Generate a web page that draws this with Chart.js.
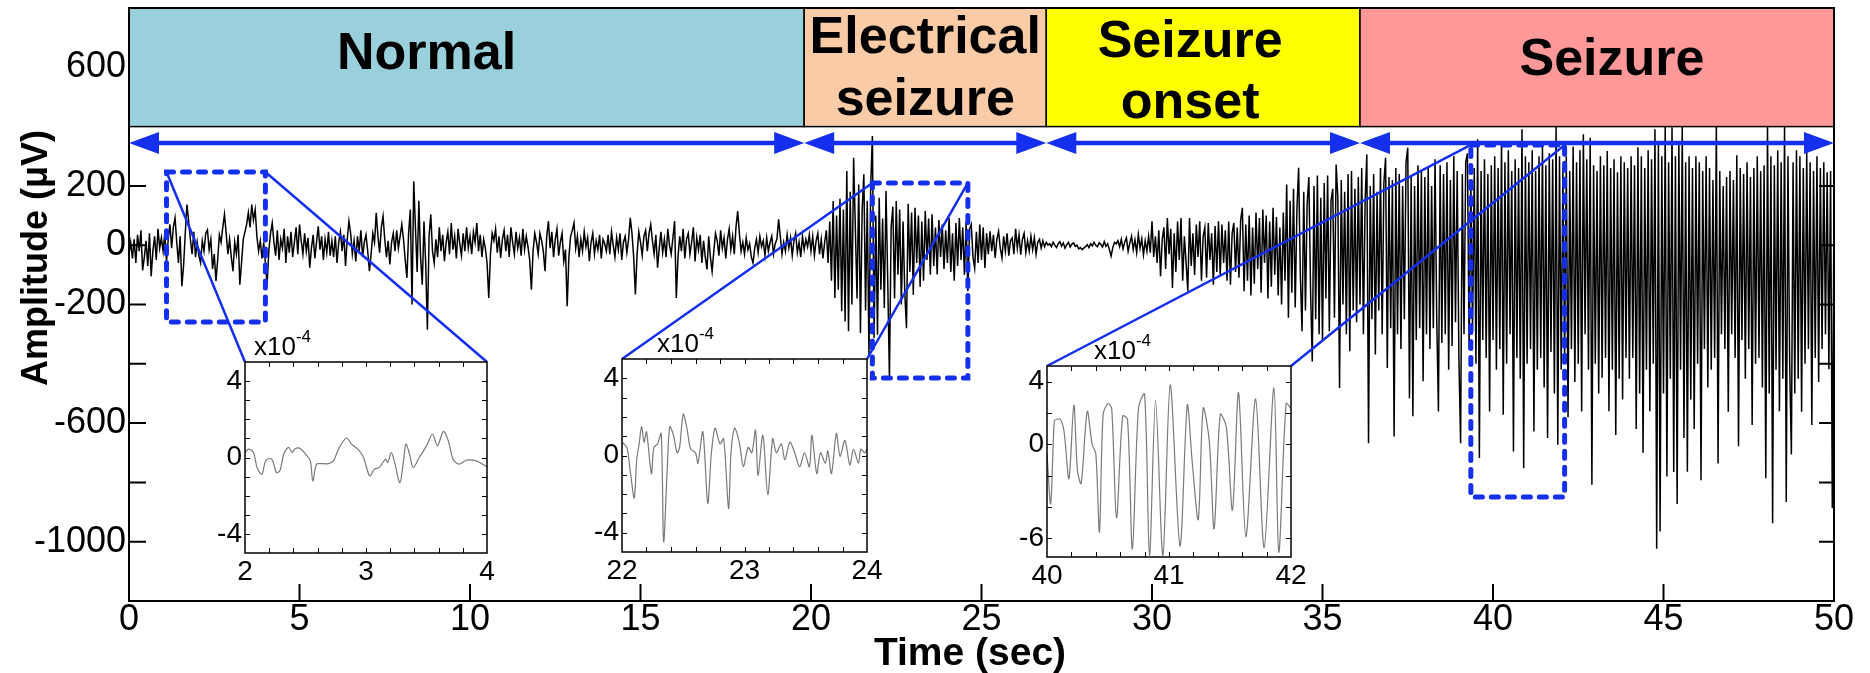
<!DOCTYPE html>
<html>
<head>
<meta charset="utf-8">
<script src="https://cdn.jsdelivr.net/npm/chart.js@4.4.0/dist/chart.umd.min.js"></script>
<style>
  body { margin: 0; background: #fff; }
  #wrap { position: relative; width: 1870px; height: 673px; }
  #wrap canvas { position: absolute; }
</style>
</head>
<body>
<div id="wrap">
  <canvas id="eeg" width="1870" height="673" style="left:0;top:0"></canvas>
  <canvas id="inset1"></canvas>
  <canvas id="inset2"></canvas>
  <canvas id="inset3"></canvas>
</div>
<script>
// EEG trace, one sample every 0.05 s (one row = one second), values in uV
const timeStep = 0.05;
const amplitude = [
  -30, 10, -45, 20, -60, 35, -20, 50, -85, -40, 15, -70, 40, -105, -20, 30, -50, 55, -10, 25,
  -20, 40, -55, 20, 70, -10, 60, 92, 10, -60, 30, -138, -70, 40, 137, 80, 20, -30, 45, -40,
  10, -35, -60, 15, -20, 40, 52, -15, 20, -80, -30, -121, -50, 35, 10, 60, 104, 40, -30, 20,
  -40, -88, 10, -30, 35, -133, -60, 20, 45, 70, 110, 60, 137, 85, 120, 30, -20, 15, -45, 10,
  -60, -133, -20, 40, 75, 10, -35, 50, -50, 20, -10, 55, -60, 30, -25, 45, -40, 10, 60, -30,
  70, 15, -30, 40, -20, 25, -76, -10, 35, -45, 10, 64, -15, 30, -50, 20, -25, 45, -35, 15,
  -40, 30, -60, 10, 45, -20, 35, -70, 20, 81, 40, -30, 15, -55, 30, -20, 50, -40, 10, 35,
  -20, -88, -30, 40, 10, 109, 30, -25, 60, 98, 20, -40, 15, -65, 10, 40, -20, 50, -10, 30,
  70, 20, -50, -110, 40, 120, -200, 216, 60, -90, 150, -40, -133, 80, -60, -285, 30, 104, -20, -60,
  20, -40, 60, -20, 35, -54, 10, 45, -30, 75, -15, 30, -45, 55, 5, -35, 40, -20, 60, -10,
  30, -30, 45, 10, 75, -20, 35, -40, 20, -10, -60, -178, -30, 40, 15, 55, -25, 30, -43, 20,
  50, -20, 35, -40, 60, 10, -30, 45, -10, 25, -35, 55, -15, 30, -5, -50, -150, -20, 40, 10,
  -30, 40, 15, -20, -88, 30, 81, -10, 45, -40, 20, 55, -35, 10, 40, -54, -15, -206, -40, 30,
  50, 75, -10, 30, -40, 20, -20, 45, -5, 25, -54, 10, 40, -30, 15, -15, 35, -45, 20, 5,
  -20, 35, -30, 45, 0, -40, 25, -15, 40, -50, 10, 30, -25, 20, 92, 40, -40, -166, -30, 45,
  10, -35, 30, 50, -20, 40, 70, 15, -30, 35, -76, -10, 45, -25, 20, -40, 55, 0, -30, 25,
  81, -178, -40, 30, -20, 55, -45, 20, 40, -30, 10, 60, -55, 25, -15, 35, -60, 15, -40, -82,
  30, -40, -88, -20, 40, 15, -35, 50, -10, 25, -45, 20, 55, -15, 30, -30, 60, 115, 40, -20,
  10, -30, 25, -15, 5, -40, -60, -10, 20, -25, 30, -5, 15, -35, 25, -20, 10, 30, -30, 5,
  20, 87, 30, -30, 10, -20, 35, -10, 25, -35, 15, 40, -25, 10, -40, 30, -15, 20, -5, 35,
  -20, 30, -35, 15, 40, -30, 20, -45, 10, 50, -60, 80, -120, 149, -178, 100, -150, 157, -223, 120,
  -257, 250, -290, 180, -200, 295, 60, -180, 205, -296, 120, 239, -220, 150, -375, 200, 368, -313, 100, -302,
  160, -150, 90, -212, 183, -120, -448, 60, 130, -180, 149, -100, 120, -200, 80, -160, -280, 140, -90, 110,
  -167, 126, -60, 100, -140, 80, -120, 115, -50, 90, -100, 104, -70, 60, -99, 85, -40, 70, -80, 50,
  -60, 92, -90, 40, -120, 75, -70, 92, -50, 60, -100, 80, -155, 55, 70, -40, -77, 45, -60, 70,
  -50, 60, -77, 40, -30, 47, -20, 35, -43, 20, 47, -10, -43, 30, -20, 40, -35, 15, 25, -30,
  55, -10, 35, -32, 20, 40, -25, 15, -20, 30, -15, 25, -30, 10, 20, -10, 15, -5, 10, 0,
  5, -5, 10, 0, -8, 5, 12, -3, 8, -10, 2, 10, -6, 4, 8, -4, 0, -12, -8, -15,
  -10, -5, 2, -8, 5, -2, 10, 0, -5, 8, 3, -6, 12, -4, 5, -15, -37, -8, 10, 5,
  15, -5, 20, -12, 10, 25, -20, 8, 30, -15, 18, -25, 36, -10, 22, -32, 15, -20, 30, -25,
  81, -40, 30, -60, 50, -105, 20, 60, -80, 92, -30, 55, -144, 40, -90, 80, -50, 92, -120, 30,
  -60, -155, 92, -70, 40, -100, 70, -40, 81, -120, 30, 60, -110, 75, -50, 40, -133, 65, -90, 81,
  -100, 70, -60, 50, -120, 80, -133, 40, 75, -90, 60, -110, 85, 126, -155, 70, -120, 100, -170, 60,
  -130, 110, -80, 92, -160, 120, -60, 100, -180, 80, -140, 126, -100, 95, -170, 60, -200, 110, -120, 205,
  -245, 150, -160, 190, -210, 120, 261, -100, -290, 180, -220, 140, 230, -150, -392, 200, -250, 235, -300, 160,
  -325, 210, -180, 235, -290, 150, 190, -245, 272, 160, -482, 220, -200, 180, -300, 240, -358, 250, -220, 190,
  -260, 230, -200, 260, -300, 150, 306, -668, 200, -250, 240, -369, 180, -220, 260, -300, 210, 295, -414, 230,
  -280, 220, -645, 260, -300, 240, -350, 200, -250, 280, 329, -516, 230, -577, 200, -320, 270, -280, 250, -459,
  230, -300, 260, -350, 200, -280, 290, -250, -561, 270, -330, 240, -300, 280, -420, 220, -340, 300, -260, 250,
  -380, -668, 240, -300, 280, 310, -350, 220, -290, 260, -400, 357, -718, 250, -320, 290, -380, 240, -561, 270,
  -320, 300, -420, 260, -350, 351, -572, 280, -400, 320, -300, 250, -696, 290, -380, 260, -450, 391, -752, 300,
  -400, 280, -350, 320, -628, 250, -420, 300, -380, 340, -480, 270, -650, 310, -360, 290, -500, 400, -673, 300,
  -420, 260, -380, 300, -580, 250, -350, 333, -461, 280, -400, 320, -561, 374, -300, 290, -420, 362, -808, 270,
  -400, 250, -500, 300, -447, 270, -380, 318, -560, 260, -420, 290, -640, 246, -450, 300, -520, 280, -380, 260,
  -450, 300, -380, 270, -620, 330, -500, 300, -700, 260, -420, 320, -560, 290, -400, 391, -1024, 350, -966, 300,
  -500, 400, -780, 280, -450, 398, -765, 300, -873, 350, -420, 400, -650, 280, -764, 300, -520, 260, -620, 300,
  -400, 280, -793, 250, -350, 300, -480, 260, -420, 220, -380, 400, -736, 250, -300, 200, -350, 230, -562, 250,
  -300, 220, -380, 303, -678, 260, -320, 240, -450, 280, -350, 230, -606, 260, -400, 300, -380, 250, -480, 270,
  -786, 400, -500, 300, -938, 270, -420, 320, -560, 280, -450, 400, -866, 300, -400, -706, 280, -500, 320, -450,
  300, -562, 260, -400, 320, -350, 280, -606, 250, -380, 300, -461, 260, -350, 280, -300, 246, -418, 250, -887,
  150
];

const phaseNames = [["Normal"], ["Electrical", "seizure"], ["Seizure", "onset"], ["Seizure"]];
const phaseBounds = [0, 19.8, 26.9, 36.1, 50];
const phaseColors = ["#99d0dc", "#f9cba7", "#ffff00", "#ff9999"];

const yLabelValues = [600, 200, 0, -200, -600, -1000];

// zoomed windows on the trace: [t start, t end, low uV, high uV]
const zoomWindows = [[1.1, 4.0, -259, 247], [21.8, 24.6, -448, 210], [39.35, 42.1, -849, 338]];

// insets, amplitude in units of 1e-4
const inset1Time = [2.0, 2.03, 2.07, 2.1, 2.14, 2.17, 2.21, 2.23, 2.26, 2.29, 2.32, 2.36, 2.39, 2.41, 2.45, 2.5, 2.54, 2.56, 2.59, 2.62, 2.69, 2.73, 2.78, 2.84, 2.88, 2.94, 2.98, 3.03, 3.07, 3.11, 3.16, 3.18, 3.21, 3.24, 3.28, 3.31, 3.33, 3.36, 3.39, 3.44, 3.5, 3.55, 3.59, 3.64, 3.68, 3.72, 3.77, 3.83, 3.91, 4.0];
const inset1Value = [0.26, 0.44, 0.26, -0.53, -0.88, -0.18, -0.04, -0.18, -0.79, -0.67, 0.18, 0.53, 0.26, 0.44, 0.49, 0.18, -0.18, -1.23, -0.35, -0.32, -0.32, -0.18, 0.53, 1.02, 0.7, 0.39, 0, -0.96, -0.61, -0.53, -0.09, -0.26, 0.26, -0.35, -1.32, -0.18, 0.7, 0.18, -0.53, 0, 0.61, 1.23, 0.61, 1.37, 0.88, -0.09, -0.35, -0.14, -0.18, -0.49];

const inset2Time = [22.0, 22.04, 22.07, 22.1, 22.12, 22.14, 22.16, 22.18, 22.2, 22.24, 22.26, 22.29, 22.32, 22.34, 22.37, 22.39, 22.42, 22.45, 22.47, 22.5, 22.53, 22.56, 22.6, 22.62, 22.66, 22.7, 22.73, 22.76, 22.8, 22.83, 22.87, 22.89, 22.92, 22.96, 22.99, 23.03, 23.06, 23.09, 23.11, 23.15, 23.19, 23.23, 23.26, 23.3, 23.33, 23.37, 23.41, 23.45, 23.49, 23.53, 23.55, 23.59, 23.62, 23.66, 23.68, 23.71, 23.75, 23.78, 23.82, 23.86, 23.89, 23.93, 23.95, 23.98, 24.0];
const inset2Value = [0.69, 0.42, -0.94, -2.2, -0.22, 0.6, 1.5, 0.69, 1.23, -0.94, 0.42, 0.6, 1.14, -4.47, -0.58, 1.5, 1.05, 0.14, 0.42, 2.14, 1.41, 0.33, 0.14, -0.4, 1.23, -2.48, 0.14, 1.41, 0.6, 0.87, -2.75, 0.14, 1.41, 0.6, -0.58, 0.42, 0.14, 1.32, -1.03, 1.05, -2.03, 0.87, 0.14, 0.6, -0.22, 0.69, 0.14, -0.58, 0.14, -0.58, 1.05, -0.94, 0.14, -0.4, 0.24, -0.94, 1.14, -0.04, 0.78, -0.49, 0.33, -0.4, 0.33, 0.14, 0.33];

const inset3Time = [40.0, 40.03, 40.06, 40.08, 40.11, 40.14, 40.18, 40.22, 40.25, 40.28, 40.33, 40.37, 40.4, 40.43, 40.46, 40.5, 40.53, 40.57, 40.62, 40.66, 40.7, 40.75, 40.8, 40.84, 40.89, 40.95, 41.01, 41.09, 41.15, 41.19, 41.24, 41.28, 41.33, 41.37, 41.42, 41.47, 41.52, 41.57, 41.63, 41.71, 41.78, 41.86, 41.9, 41.96, 42.0];
const inset3Value = [-0.6, -3.8, 1.5, 1.6, 1.6, 0.8, -2.2, 2.5, -1.7, -2.5, 2.1, 0, -0.6, -5.6, 1.9, 2.6, 2.3, -4.7, 1.8, 1.6, -6.7, 2.3, 3.2, -7.1, 2.8, -7.1, 3.8, -6.5, 2.5, -1.1, -4.8, 2.3, 0.2, -5.4, 1.9, 1.1, -4.2, 3.3, -5.9, 2.9, -6.6, 3.6, -6.9, 2.6, 2.3];

const FONT = "'Liberation Sans', Arial, Helvetica, sans-serif";
const BLUE = "#1430ee";

// pixel boxes of the three insets on the page
const insetBoxes = [
  { left: 245, top: 362, width: 242, height: 191 },
  { left: 622, top: 359, width: 245, height: 193 },
  { left: 1047, top: 366, width: 244, height: 191 }
];
const phaseLabelLayout = [
  { dx: -40, baselines: [69] },
  { dx: 0, baselines: [53, 115] },
  { dx: -13, baselines: [57, 118] },
  { dx: 15, baselines: [75] }
];

const eegPoints = amplitude.map((v, i) => ({ x: +(i * timeStep).toFixed(2), y: v }));

function drawArrow(ctx, x0, x1, yy) {
  const head = 30, half = 11;
  ctx.beginPath();
  ctx.moveTo(x0 + head - 2, yy);
  ctx.lineTo(x1 - head + 2, yy);
  ctx.stroke();
  ctx.beginPath();
  ctx.moveTo(x0, yy); ctx.lineTo(x0 + head, yy - half); ctx.lineTo(x0 + head, yy + half);
  ctx.closePath(); ctx.fill();
  ctx.beginPath();
  ctx.moveTo(x1, yy); ctx.lineTo(x1 - head, yy - half); ctx.lineTo(x1 - head, yy + half);
  ctx.closePath(); ctx.fill();
}

const overlay = {
  id: "overlay",
  afterDatasetsDraw(chart) {
    const { ctx, chartArea: a, scales: { x, y } } = chart;
    ctx.save();

    // phase bands over the top of the plot
    const bandTop = y.getPixelForValue(800), bandBottom = y.getPixelForValue(400);
    phaseNames.forEach((lines, i) => {
      const l = x.getPixelForValue(phaseBounds[i]), r = x.getPixelForValue(phaseBounds[i + 1]);
      ctx.fillStyle = phaseColors[i];
      ctx.fillRect(l, bandTop, r - l, bandBottom - bandTop);
      ctx.strokeStyle = "#000";
      ctx.lineWidth = 1.5;
      ctx.strokeRect(l, bandTop, r - l, bandBottom - bandTop);
      ctx.fillStyle = "#000";
      ctx.font = "bold 52px " + FONT;
      ctx.textAlign = "center";
      ctx.textBaseline = "alphabetic";
      const lay = phaseLabelLayout[i];
      lines.forEach((t, k) => ctx.fillText(t, (l + r) / 2 + lay.dx, lay.baselines[k]));
    });

    // frame
    ctx.strokeStyle = "#000";
    ctx.lineWidth = 2;
    ctx.strokeRect(a.left, a.top, a.right - a.left, a.bottom - a.top);

    // inward tick marks
    ctx.lineWidth = 2;
    ctx.beginPath();
    x.ticks.forEach(t => {
      if (t.value <= 0 || t.value >= 50) return;
      const px = x.getPixelForValue(t.value);
      ctx.moveTo(px, a.bottom); ctx.lineTo(px, a.bottom - 17);
    });
    y.ticks.forEach(t => {
      if (t.value > 200 || t.value <= -1200) return;
      const py = y.getPixelForValue(t.value);
      ctx.moveTo(a.left, py); ctx.lineTo(a.left + 17, py);
      ctx.moveTo(a.right, py); ctx.lineTo(a.right - 15, py);
    });
    ctx.stroke();

    // phase arrows
    ctx.strokeStyle = BLUE; ctx.fillStyle = BLUE; ctx.lineWidth = 4.5;
    const ay = y.getPixelForValue(345);
    for (let i = 0; i < phaseNames.length; i++) {
      drawArrow(ctx, x.getPixelForValue(phaseBounds[i]), x.getPixelForValue(phaseBounds[i + 1]), ay);
    }

    // zoom windows and connectors to insets
    zoomWindows.forEach((w, i) => {
      const l = x.getPixelForValue(w[0]), r = x.getPixelForValue(w[1]);
      const top = y.getPixelForValue(w[3]), bot = y.getPixelForValue(w[2]);
      ctx.setLineDash([7, 9]);
      ctx.lineCap = "round";
      ctx.lineWidth = 5;
      ctx.strokeRect(l, top, r - l, bot - top);
      ctx.setLineDash([]);
      ctx.lineCap = "butt";
      ctx.lineWidth = 2.5;
      const b = insetBoxes[i];
      ctx.beginPath();
      ctx.moveTo(l, top); ctx.lineTo(b.left, b.top);
      ctx.moveTo(r, top); ctx.lineTo(b.left + b.width, b.top);
      ctx.stroke();
    });

    // axis titles
    ctx.fillStyle = "#000";
    ctx.font = "bold 39px " + FONT;
    ctx.textAlign = "center";
    ctx.textBaseline = "alphabetic";
    ctx.fillText("Time (sec)", 970, 665);

    ctx.font = "bold 36px " + FONT;
    ctx.textBaseline = "middle";
    ctx.translate(37, 258);
    ctx.rotate(-Math.PI / 2);
    ctx.fillText("Amplitude (\u03bcV)", 0, 0);
    ctx.restore();
  }
};

new Chart(document.getElementById("eeg"), {
  type: "line",
  data: {
    datasets: [{
      data: eegPoints,
      borderColor: "#000",
      borderWidth: 1.5,
      pointRadius: 0,
      tension: 0
    }]
  },
  options: {
    responsive: false,
    animation: false,
    events: [],
    layout: { padding: { top: 8, right: 36, left: 0, bottom: 0 } },
    plugins: { legend: { display: false }, tooltip: { enabled: false } },
    scales: {
      x: {
        type: "linear", min: 0, max: 50,
        grid: { display: false, drawTicks: false },
        border: { display: false },
        ticks: { stepSize: 5, padding: 1, color: "#000", maxRotation: 0, autoSkip: false, font: { family: FONT, size: 36, lineHeight: 1 } },
        afterFit: s => { s.height = 72; s.paddingLeft = 0; s.paddingRight = 0; }
      },
      y: {
        min: -1200, max: 800,
        grid: { display: false, drawTicks: false },
        border: { display: false },
        ticks: {
          stepSize: 200, padding: 3, color: "#000", autoSkip: false,
          font: { family: FONT, size: 36 },
          callback: v => yLabelValues.includes(v) ? String(v) : ""
        },
        afterFit: s => { s.width = 129; s.paddingTop = 0; s.paddingBottom = 0; }
      }
    }
  },
  plugins: [overlay]
});

function insetDecor(cfg) {
  return {
    id: "insetDecor",
    beforeDraw(chart) {
      const { ctx, chartArea: a } = chart;
      ctx.save();
      ctx.fillStyle = "#fff";
      ctx.fillRect(a.left, a.top, a.right - a.left, a.bottom - a.top);
      ctx.restore();
    },
    afterDraw(chart) {
      const { ctx, chartArea: a, scales: { x, y } } = chart;
      ctx.save();
      ctx.strokeStyle = "#000";
      ctx.lineWidth = 1.5;
      ctx.strokeRect(a.left, a.top, a.right - a.left, a.bottom - a.top);
      ctx.lineWidth = 1;
      ctx.beginPath();
      for (let k = 1; k < 10; k++) {
        const px = Math.round(x.getPixelForValue(cfg.xMin + k * 0.2)) + 0.5;
        ctx.moveTo(px, a.bottom); ctx.lineTo(px, a.bottom - 5);
        ctx.moveTo(px, a.top); ctx.lineTo(px, a.top + 5);
      }
      cfg.yTicks.forEach(v => {
        const py = Math.round(y.getPixelForValue(v)) + 0.5;
        ctx.moveTo(a.left, py); ctx.lineTo(a.left + 5, py);
        ctx.moveTo(a.right, py); ctx.lineTo(a.right - 5, py);
      });
      ctx.stroke();
      // scale factor label
      ctx.fillStyle = "#000";
      ctx.textAlign = "left";
      ctx.textBaseline = "alphabetic";
      ctx.font = "26px " + FONT;
      const bx = a.left + cfg.expDx;
      ctx.fillText("x10", bx, a.top - 7);
      const w = ctx.measureText("x10").width;
      ctx.font = "17px " + FONT;
      ctx.fillText("-4", bx + w, a.top - 20);
      ctx.restore();
    }
  };
}

function makeInset(id, box, times, values, cfg) {
  const cv = document.getElementById(id);
  cv.width = box.width + 67;
  cv.height = box.height + 75;
  cv.style.left = (box.left - 45) + "px";
  cv.style.top = (box.top - 40) + "px";
  new Chart(cv, {
    type: "line",
    data: {
      datasets: [{
        data: times.map((t, i) => ({ x: t, y: values[i] })),
        borderColor: "#7a7a7a",
        borderWidth: 1.2,
        pointRadius: 0,
        tension: 0.3
      }]
    },
    options: {
      responsive: false,
      animation: false,
      events: [],
      layout: { padding: { top: 40, right: 22, left: 0, bottom: 0 } },
      plugins: { legend: { display: false }, tooltip: { enabled: false } },
      scales: {
        x: {
          type: "linear", min: cfg.xMin, max: cfg.xMax,
          grid: { display: false, drawTicks: false },
          border: { display: false },
          afterBuildTicks: s => { s.ticks = cfg.xLabels.map(v => ({ value: v })); },
          ticks: { padding: 2, color: "#000", maxRotation: 0, autoSkip: false, font: { family: FONT, size: 28 } },
          afterFit: s => { s.height = 35; s.paddingLeft = 0; s.paddingRight = 0; }
        },
        y: {
          min: cfg.yMin, max: cfg.yMax,
          grid: { display: false, drawTicks: false },
          border: { display: false },
          afterBuildTicks: s => { s.ticks = cfg.yLabels.map(v => ({ value: v })); },
          ticks: { padding: 3, color: "#000", autoSkip: false, font: { family: FONT, size: 28 } },
          afterFit: s => { s.width = 45; s.paddingTop = 0; s.paddingBottom = 0; }
        }
      }
    },
    plugins: [insetDecor(cfg)]
  });
}

makeInset("inset1", insetBoxes[0], inset1Time, inset1Value,
  { xMin: 2, xMax: 4, xLabels: [2, 3, 4], yMin: -5, yMax: 5, yLabels: [4, 0, -4],
    yTicks: [-4, -3, -2, -1, 0, 1, 2, 3, 4], expDx: 9 });
makeInset("inset2", insetBoxes[1], inset2Time, inset2Value,
  { xMin: 22, xMax: 24, xLabels: [22, 23, 24], yMin: -5, yMax: 5, yLabels: [4, 0, -4],
    yTicks: [-4, -3, -2, -1, 0, 1, 2, 3, 4], expDx: 35 });
makeInset("inset3", insetBoxes[2], inset3Time, inset3Value,
  { xMin: 40, xMax: 42, xLabels: [40, 41, 42], yMin: -7.2, yMax: 5, yLabels: [4, 0, -6],
    yTicks: [-6, -4, -2, 0, 2, 4], expDx: 47 });
</script>
</body>
</html>
